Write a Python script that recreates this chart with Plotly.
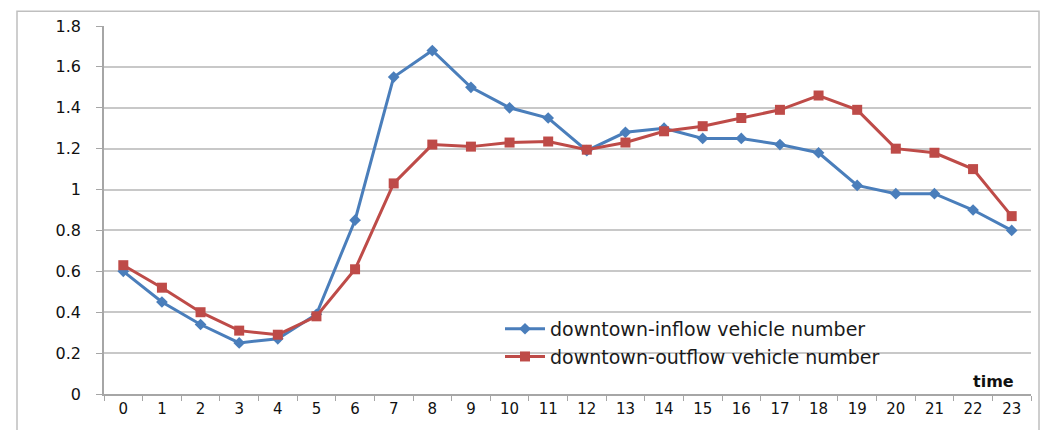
import plotly.graph_objects as go

hours = [str(h) for h in range(24)]
inflow = [0.60, 0.45, 0.34, 0.25, 0.27, 0.39, 0.85, 1.55, 1.68, 1.50, 1.40, 1.35,
          1.19, 1.28, 1.30, 1.25, 1.25, 1.22, 1.18, 1.02, 0.98, 0.98, 0.90, 0.80]
outflow = [0.63, 0.52, 0.40, 0.31, 0.29, 0.38, 0.61, 1.03, 1.22, 1.21, 1.23, 1.235,
           1.195, 1.23, 1.285, 1.31, 1.35, 1.39, 1.46, 1.39, 1.20, 1.18, 1.10, 0.87]
y_ticks = [0, 0.2, 0.4, 0.6, 0.8, 1, 1.2, 1.4, 1.6, 1.8]
y_labels = ["0", "0.2", "0.4", "0.6", "0.8", "1", "1.2", "1.4", "1.6", "1.8"]

BLUE = "#4A7EBB"
RED = "#BE4B48"
FONT = "DejaVu Sans, Verdana, sans-serif"

fig = go.Figure()
fig.add_trace(go.Scatter(
    x=hours, y=inflow, mode="lines+markers", name="downtown-inflow vehicle number",
    line=dict(color=BLUE, width=3),
    marker=dict(symbol="diamond", size=9, color=BLUE),
))
fig.add_trace(go.Scatter(
    x=hours, y=outflow, mode="lines+markers", name="downtown-outflow vehicle number",
    line=dict(color=RED, width=3),
    marker=dict(symbol="square", size=10, color=RED),
))

W, H = 1045, 430
L, R, T, B = 104, 14, 26, 32
pw, ph = W - L - R, H - T - B


def px_x(x):
    return (x - L) / pw


def px_y(y):
    return (H - B - y) / ph


# outer chart frame
fig.add_shape(type="rect", xref="paper", yref="paper",
              x0=px_x(17), x1=px_x(1039), y0=px_y(445), y1=px_y(11),
              line=dict(color="#BFBFBF", width=1.5), fillcolor="rgba(0,0,0,0)",
              layer="below")

fig.add_annotation(text="<b>time</b>", xref="paper", yref="paper",
                   x=px_x(1016), y=px_y(385), xanchor="right", yanchor="middle",
                   showarrow=False, font=dict(family=FONT, size=16, color="#111"))

fig.update_layout(
    width=W, height=H,
    margin=dict(l=L, r=R, t=T, b=B),
    paper_bgcolor="white", plot_bgcolor="white",
    font=dict(family=FONT, size=15, color="#1a1a1a"),
    showlegend=True,
    legend=dict(x=px_x(500), y=px_y(313), xanchor="left", yanchor="top",
                bgcolor="rgba(0,0,0,0)", font=dict(family=FONT, size=19, color="#1a1a1a"),
                tracegroupgap=0, itemwidth=40),
    xaxis=dict(type="category", range=[-0.5, 23.5], showgrid=False,
               showline=True, linecolor="#A6A6A6", linewidth=1.5,
               ticks="outside", tickson="boundaries", ticklen=5, tickcolor="#A6A6A6",
               tickfont=dict(family=FONT, size=15, color="#111"), fixedrange=True),
    yaxis=dict(range=[0, 1.8], tickvals=y_ticks, ticktext=y_labels,
               showgrid=True, gridcolor="#C8C8C8", gridwidth=1.5,
               showline=True, linecolor="#A6A6A6", linewidth=1.5,
               ticks="outside", ticklen=6, tickcolor="#A6A6A6",
               ticklabelstandoff=12,
               tickfont=dict(family=FONT, size=16, color="#111"), zeroline=False,
               fixedrange=True),
)

fig.write_html("out.html")
